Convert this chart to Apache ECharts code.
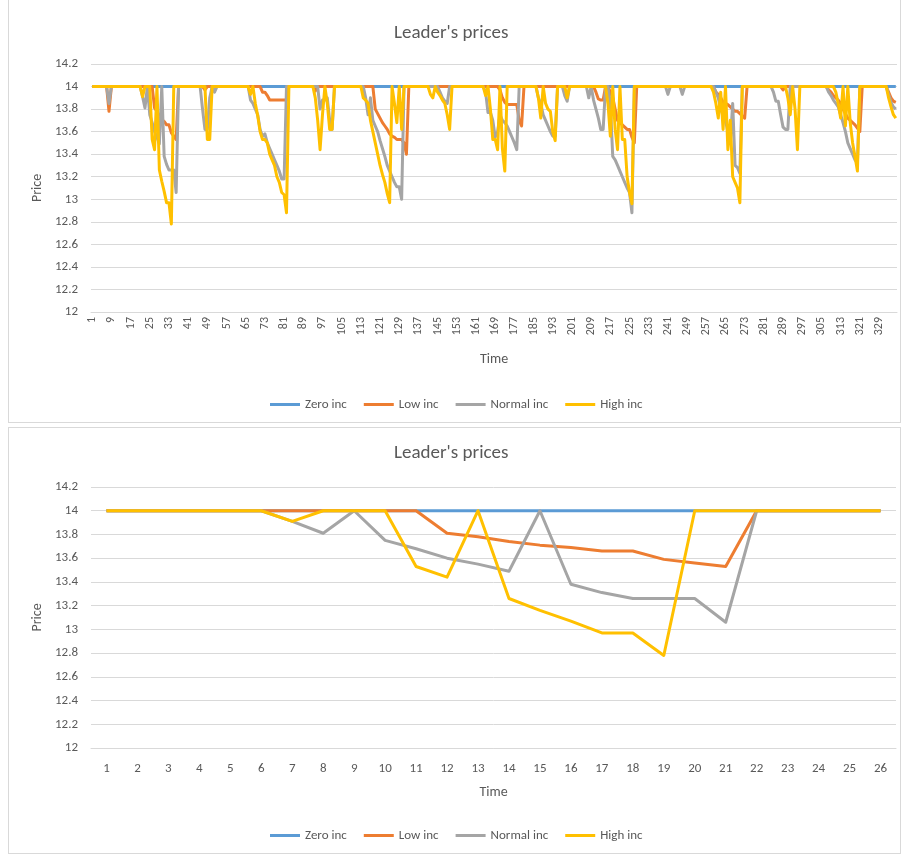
<!DOCTYPE html>
<html>
<head>
<meta charset="utf-8">
<script src="https://cdn.jsdelivr.net/npm/echarts@6.0.0/dist/echarts.min.js"></script>
<style>
  html, body { margin: 0; padding: 0; background: #fff; }
  .box { position: absolute; border: 1px solid #d9d9d9; box-sizing: border-box; }
  .chart { position: absolute; left: 0; width: 902px; }
</style>
</head>
<body>
<div class="box" style="left:8px;top:-1px;width:893px;height:424px"></div>
<div class="box" style="left:8px;top:427px;width:893px;height:427px"></div>
<div id="topChart" class="chart" style="top:0;height:425px"></div>
<div id="bottomChart" class="chart" style="top:425px;height:430px"></div>
<script>
// series names / colours (Excel default palette)
var seriesNames = ["Zero inc", "Low inc", "Normal inc", "High inc"];
var seriesColors = ["#5b9bd5", "#ed7d31", "#a5a5a5", "#ffc000"];
var titleText = "Leader's prices";

// ---- top chart: whole run, 336 periods ----
var zeroTop = [
  14,14,14,14,14,14,14,14,14,14,14,14,14,14,14,14,14,14,14,14,14,14,14,14,
  14,14,14,14,14,14,14,14,14,14,14,14,14,14,14,14,14,14,14,14,14,14,14,14,
  14,14,14,14,14,14,14,14,14,14,14,14,14,14,14,14,14,14,14,14,14,14,14,14,
  14,14,14,14,14,14,14,14,14,14,14,14,14,14,14,14,14,14,14,14,14,14,14,14,
  14,14,14,14,14,14,14,14,14,14,14,14,14,14,14,14,14,14,14,14,14,14,14,14,
  14,14,14,14,14,14,14,14,14,14,14,14,14,14,14,14,14,14,14,14,14,14,14,14,
  14,14,14,14,14,14,14,14,14,14,14,14,14,14,14,14,14,14,14,14,14,14,14,14,
  14,14,14,14,14,14,14,14,14,14,14,14,14,14,14,14,14,14,14,14,14,14,14,14,
  14,14,14,14,14,14,14,14,14,14,14,14,14,14,14,14,14,14,14,14,14,14,14,14,
  14,14,14,14,14,14,14,14,14,14,14,14,14,14,14,14,14,14,14,14,14,14,14,14,
  14,14,14,14,14,14,14,14,14,14,14,14,14,14,14,14,14,14,14,14,14,14,14,14,
  14,14,14,14,14,14,14,14,14,14,14,14,14,14,14,14,14,14,14,14,14,14,14,14,
  14,14,14,14,14,14,14,14,14,14,14,14,14,14,14,14,14,14,14,14,14,14,14,14,
  14,14,14,14,14,14,14,14,14,14,14,14,14,14,14,14,14,14,14,14,14,14,14,14
];
var lowTop = [
  14,14,14,14,14,14,14,13.78,14,14,14,14,14,14,14,14,14,14,14,14,14,14,14,14,
  14,14,13.81,13.78,13.74,13.71,13.69,13.66,13.66,13.59,13.56,13.53,14,14,14,14,14,14,14,14,14,14,14,13.97,
  14,14,14,14,14,14,14,14,14,14,14,14,14,14,14,14,14,14,14,14,14,14,14,13.95,
  13.95,13.92,13.88,13.88,13.88,13.88,13.88,13.88,13.88,13.88,14,14,14,14,14,14,14,14,14,14,14,13.96,14,14,
  14,14,14,14,14,14,14,14,14,14,14,14,14,14,14,14,14,14,14,14,14,14,13.8,13.76,
  13.72,13.68,13.65,13.62,13.58,13.56,13.55,13.53,13.53,13.53,13.5,13.4,14,14,14,14,14,14,14,14,14,14,14,14,
  14,14,14,14,14,14,14,14,14,14,14,14,14,14,14,14,14,14,14,14,14,14,14,14,
  14,14,13.97,13.9,13.86,13.84,13.84,13.84,13.84,13.84,13.7,13.65,14,14,14,14,14,14,14,14,14,14,14,14,
  14,14,14,14,14,14,14,14,14,14,14,14,14,14,14,14,14,14,13.95,13.89,13.88,13.88,14,14,
  13.95,13.9,13.8,13.7,13.68,13.66,13.64,13.62,13.62,13.55,13.5,14,14,14,14,14,14,14,14,14,14,14,14,14,
  14,14,14,14,14,14,14,14,14,14,14,14,14,14,14,14,14,14,14,14,13.95,13.93,13.9,13.86,
  13.85,13.84,13.82,13.8,13.78,13.78,13.76,13.74,13.72,14,14,14,14,14,14,14,14,14,14,14,14,14,14,14,
  13.97,14,14,14,14,14,14,14,14,14,14,14,14,14,14,14,14,14,14,13.97,13.95,13.92,13.9,13.88,
  13.85,13.8,13.76,13.72,13.7,13.68,13.66,13.63,13.6,14,14,14,14,14,14,14,14,14,14,14,13.95,13.9,13.87,13.86
];
var normalTop = [
  14,14,14,14,14,14,14,13.85,14,14,14,14,14,14,14,14,14,14,14,14,14,13.91,13.81,14,
  13.75,13.68,13.6,13.55,13.49,14,13.38,13.31,13.26,13.26,13.26,13.06,14,14,14,14,14,14,14,14,14,14,13.8,13.62,
  13.62,13.9,14,13.95,14,14,14,14,14,14,14,14,14,14,14,14,14,14,13.88,13.85,13.8,13.75,13.62,13.56,
  13.58,13.5,13.45,13.4,13.35,13.3,13.25,13.18,13.18,14,14,14,14,14,14,14,14,14,14,14,14,14,14,13.8,
  13.88,13.88,13.9,13.7,13.62,14,14,14,14,14,14,14,14,14,14,14,14,14,13.9,13.75,13.9,13.7,13.65,13.6,
  13.52,13.45,13.38,13.3,13.25,13.2,13.15,13.11,13.11,13.0,14,14,14,14,14,14,14,14,14,14,14,14,14,14,
  14,13.95,13.9,13.87,13.85,14,14,14,14,14,14,14,14,14,14,14,14,14,14,14,13.95,13.77,13.77,13.7,
  13.55,13.6,13.75,13.7,13.68,13.65,13.6,13.55,13.5,13.44,14,14,14,14,14,14,14,14,13.9,13.85,13.75,13.7,13.65,13.6,
  13.56,13.56,14,14,14,13.92,13.87,14,14,14,14,14,14,14,14,13.9,14,13.88,13.8,13.72,13.62,13.62,14,14,
  13.85,13.38,13.35,13.3,13.25,13.2,13.15,13.1,13.06,12.88,14,14,14,14,14,14,14,14,14,14,14,14,14,14,
  13.93,14,14,14,14,14,13.93,14,14,14,14,14,14,14,14,14,14,14,14,14,13.95,13.9,13.8,13.75,
  13.7,13.6,13.5,13.85,13.3,13.28,13.23,14,14,14,14,14,14,14,14,14,14,14,14,14,13.95,13.87,13.87,13.75,
  13.64,13.62,13.62,14,14,14,14,14,14,14,14,14,14,14,14,14,14,14,14,13.95,13.92,13.88,13.85,13.82,
  13.75,13.68,13.6,13.5,13.45,13.4,13.35,13.32,14,14,14,14,14,14,14,14,14,14,14,14,13.93,13.86,13.82,13.8
];
var highTop = [
  14,14,14,14,14,14,14,14,14,14,14,14,14,14,14,14,14,14,14,14,14,13.91,14,14,
  14,13.53,13.44,14,13.26,13.16,13.07,12.97,12.97,12.78,14,14,14,14,14,14,14,14,14,14,14,14,14,14,
  13.53,13.53,14,14,14,14,14,14,14,14,14,14,14,14,14,14,14,14,13.93,14,13.85,13.74,13.6,13.53,
  13.53,13.5,13.4,13.35,13.3,13.2,13.15,13.06,13.04,12.88,14,14,14,14,14,14,14,14,14,14,14,13.9,13.7,13.44,
  13.75,14,13.85,13.62,13.62,14,14,14,14,14,14,14,14,14,14,14,14,13.9,13.88,13.85,13.7,13.6,13.5,13.4,
  13.3,13.22,13.15,13.05,12.97,14,13.85,13.68,14,13.62,14,14,14,14,14,14,14,14,14,14,14,13.93,13.9,14,
  13.95,13.92,13.88,13.85,13.75,13.62,14,14,14,14,14,14,14,14,14,14,14,14,14,14,13.92,14,13.8,13.53,
  13.53,13.44,14,13.45,13.25,14,14,14,14,14,14,14,14,14,14,14,14,14,13.9,13.72,14,13.85,13.8,13.78,
  13.6,13.52,14,14,14,14,13.9,14,14,14,14,14,14,14,14,14,14,14,14,14,14,14,14,13.85,
  13.56,14,13.62,13.44,14,13.53,13.53,13.2,13.06,12.96,14,14,14,14,14,14,14,14,14,14,14,14,14,14,
  14,14,14,14,14,14,14,14,14,14,14,14,14,14,14,14,14,14,14,13.95,13.85,13.72,13.95,13.62,
  14,13.44,13.7,13.2,13.15,13.1,12.97,14,14,14,14,14,14,14,14,14,14,14,14,14,14,14,14,14,
  14,14,13.9,13.75,14,13.8,13.44,14,14,14,14,14,14,14,14,14,14,14,14,14,14,14,13.95,13.85,
  13.72,14,13.65,14,13.68,13.5,13.38,13.25,14,14,14,14,14,14,14,14,14,14,14,14,13.9,13.82,13.75,13.72
];

// ---- bottom chart: first shock, 26 periods ----
var zeroBottom = [14,14,14,14,14,14,14,14,14,14,14,14,14,14,14,14,14,14,14,14,14,14,14,14,14,14];
var lowBottom = [14,14,14,14,14,14,14,14,14,14,14,13.81,13.78,13.74,13.71,13.69,13.66,13.66,13.59,13.56,13.53,14,14,14,14,14];
var normalBottom = [14,14,14,14,14,14,13.91,13.81,14,13.75,13.68,13.6,13.55,13.49,14,13.38,13.31,13.26,13.26,13.26,13.06,14,14,14,14,14];
var highBottom = [14,14,14,14,14,14,13.91,14,14,14,13.53,13.44,14,13.26,13.16,13.07,12.97,12.97,12.78,14,14,14,14,14,14,14];

var textColor = "#595959";
var gridColor = "#d9d9d9";
var font = "Carlito, Lato, sans-serif";

function timeLabels(n) {
  var out = [];
  for (var i = 1; i <= n; i++) out.push(String(i));
  return out;
}

function buildOption(cfg) {
  var data = cfg.data;
  return {
    animation: false,
    textStyle: { fontFamily: font },
    title: {
      text: titleText,
      left: 394,
      top: cfg.titleTop,
      padding: 0,
      textStyle: { fontSize: 19, fontWeight: "normal", color: textColor, fontFamily: font }
    },
    legend: {
      data: seriesNames,
      left: 265,
      top: cfg.legendTop,
      icon: "rect",
      itemWidth: 30,
      itemHeight: 3,
      itemGap: 17,
      textStyle: { fontSize: 13, color: textColor, fontFamily: font }
    },
    grid: { left: 91, right: cfg.gridRight, top: cfg.gridTop, height: cfg.gridHeight },
    xAxis: {
      type: "category",
      boundaryGap: true,
      data: timeLabels(data[0].length),
      name: "Time",
      nameLocation: "middle",
      nameGap: cfg.nameGapX,
      nameTextStyle: { fontSize: 14, color: textColor, fontFamily: font },
      axisLine: { lineStyle: { color: gridColor } },
      axisTick: { show: false },
      axisLabel: {
        interval: cfg.labelInterval,
        rotate: cfg.labelRotate,
        margin: cfg.labelMargin,
        fontSize: cfg.labelSize,
        color: textColor,
        fontFamily: font
      }
    },
    yAxis: {
      type: "value",
      min: 12,
      max: 14.2,
      interval: 0.2,
      name: "Price",
      nameLocation: "middle",
      nameGap: 46,
      nameTextStyle: { fontSize: 14, color: textColor, fontFamily: font },
      axisLine: { show: false },
      axisTick: { show: false },
      axisLabel: {
        margin: 13,
        fontSize: 13,
        color: textColor,
        fontFamily: font,
        formatter: function (v) { return String(Math.round(v * 10) / 10); }
      },
      splitLine: { lineStyle: { color: gridColor } }
    },
    series: seriesNames.map(function (name, i) {
      return {
        name: name,
        type: "line",
        data: data[i],
        symbol: "none",
        color: seriesColors[i],
        lineStyle: { width: cfg.lineWidth, color: seriesColors[i], join: "round" }
      };
    })
  };
}

var topChart = echarts.init(document.getElementById("topChart"));
topChart.setOption(buildOption({
  data: [zeroTop, lowTop, normalTop, highTop],
  titleTop: 24, legendTop: 393, gridTop: 64, gridHeight: 248, gridRight: 5,
  nameGapX: 40, labelInterval: 7, labelRotate: 90, labelMargin: 5, labelSize: 12,
  lineWidth: 3
}));

var bottomChart = echarts.init(document.getElementById("bottomChart"));
bottomChart.setOption(buildOption({
  data: [zeroBottom, lowBottom, normalBottom, highBottom],
  titleTop: 19, legendTop: 399, gridTop: 62, gridHeight: 261, gridRight: 6,
  nameGapX: 37, labelInterval: 0, labelRotate: 0, labelMargin: 14, labelSize: 13,
  lineWidth: 3
}));
</script>
</body>
</html>
